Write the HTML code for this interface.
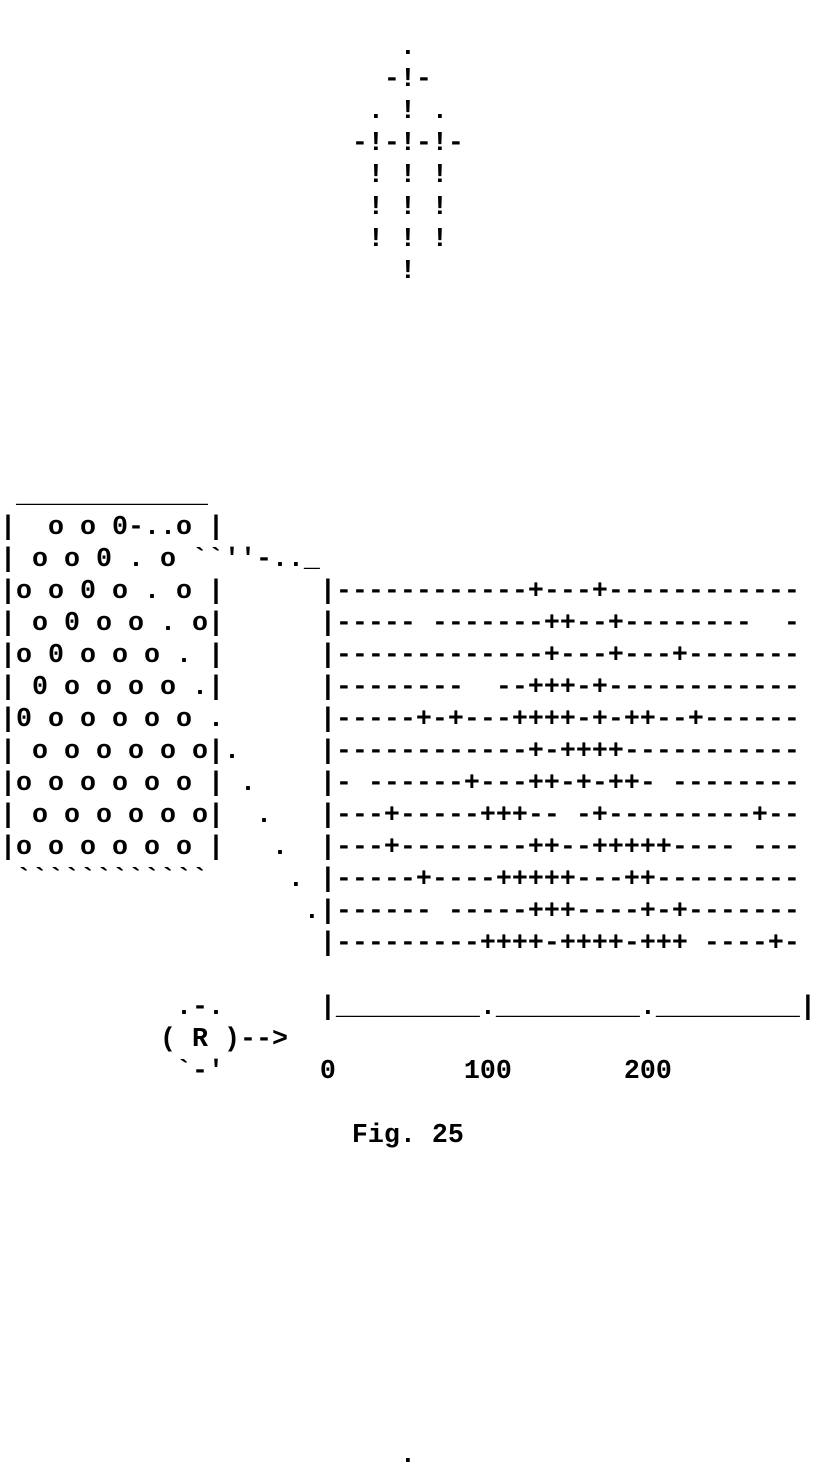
<!DOCTYPE html>
<html><head><meta charset="utf-8"><style>
html,body{margin:0;padding:0;background:#fff;width:816px;height:1472px;overflow:hidden}
pre{margin:0;padding:0;font-family:"Liberation Mono",monospace;font-weight:bold;font-size:26.667px;line-height:32px;color:#000;white-space:pre}
</style></head><body><pre>

                         .
                        -!-
                       . ! .
                      -!-!-!-
                       ! ! !
                       ! ! !
                       ! ! !
                         !






 ____________
|  o o 0-..o |
| o o 0 . o &#96;&#96;''-.._
|o o 0 o . o |      |------------+---+------------
| o 0 o o . o|      |----- -------++--+--------  -
|o 0 o o o . |      |-------------+---+---+-------
| 0 o o o o .|      |--------  --+++-+------------
|0 o o o o o .      |-----+-+---++++-+-++--+------
| o o o o o o|.     |------------+-++++-----------
|o o o o o o | .    |- ------+---++-+-++- --------
| o o o o o o|  .   |---+-----+++-- -+---------+--
|o o o o o o |   .  |---+--------++--+++++---- ---
 &#96;&#96;&#96;&#96;&#96;&#96;&#96;&#96;&#96;&#96;&#96;&#96;     . |-----+----+++++---++---------
                   .|------ -----+++----+-+-------
                    |---------++++-++++-+++ ----+-

           .-.      |_________._________._________|
          ( R )-->
           &#96;-'      0        100       200

                      Fig. 25









                         .
</pre></body></html>
